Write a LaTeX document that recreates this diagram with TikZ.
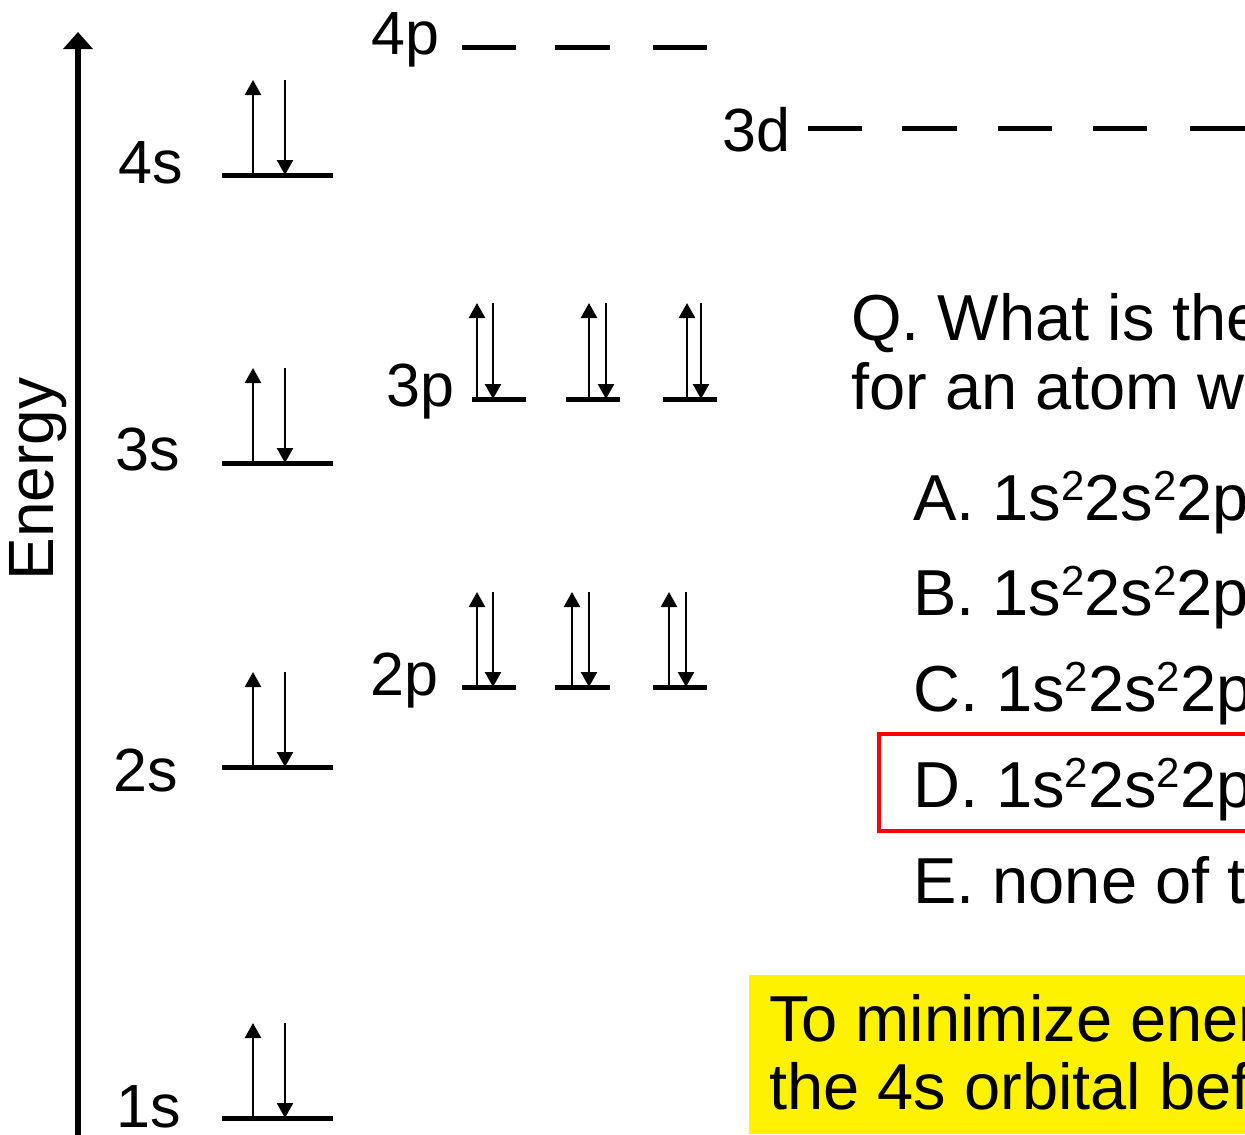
\documentclass[tikz,border=0pt]{standalone}
\usepackage{fontspec}
\setmainfont{Liberation Sans}
\usetikzlibrary{arrows.meta}
\newcommand\supr[1]{\raisebox{20pt}{\fontsize{42}{42}\selectfont #1}}
\begin{document}
\begin{tikzpicture}[x=1pt,y=-1pt,
  lvl/.style={line width=5pt},
  spin/.style={line width=2.5pt,-{Triangle[width=16pt,length=15pt]}},
  axisarrow/.style={line width=6pt,-{Triangle[width=29pt,length=17pt]}},
  lab/.style={inner sep=0pt,anchor=base west,font=\fontsize{61}{72}\selectfont},
  qtext/.style={inner sep=0pt,anchor=base west,font=\fontsize{65}{78}\selectfont},
]
\useasboundingbox (0,0) rectangle (1245,1135);
\clip (0,0) rectangle (1245,1135);

% energy axis
\coordinate (ax0) at (78,1145);
\coordinate (ax1) at (78,32);
\draw[axisarrow] (ax0) -- (ax1);
\node[inner sep=0pt,rotate=90,anchor=base,font=\fontsize{64}{72}\selectfont] (energy) at (53,479) {Energy};

% s levels
\foreach \n/\y in {4s/175,3s/463,2s/767,1s/1118}{
  \coordinate (L\n a) at (222,\y);
  \coordinate (L\n b) at (333,\y);
  \draw[lvl] (L\n a) -- (L\n b);
  \coordinate (U\n a) at (253,\y);
  \coordinate (U\n b) at (253,\y-95);
  \coordinate (D\n a) at (285,\y-95);
  \coordinate (D\n b) at (285,\y);
  \draw[spin] (U\n a) -- (U\n b);
  \draw[spin] (D\n a) -- (D\n b);
}
\node[lab] (l4s) at (118,183) {4s};
\node[lab] (l3s) at (115,470) {3s};
\node[lab] (l2s) at (113,791) {2s};
\node[lab] (l1s) at (116,1127) {1s};

% 3p
\foreach \i/\xa/\xb/\xu/\xd in {1/472/526/477/493, 2/566/620/589/606, 3/663/717/687/701}{
  \coordinate (P3\i a) at (\xa,399);
  \coordinate (P3\i b) at (\xb,399);
  \draw[lvl] (P3\i a) -- (P3\i b);
  \coordinate (P3u\i a) at (\xu,399);
  \coordinate (P3u\i b) at (\xu,303);
  \coordinate (P3d\i a) at (\xd,303);
  \coordinate (P3d\i b) at (\xd,399);
  \draw[spin] (P3u\i a) -- (P3u\i b);
  \draw[spin] (P3d\i a) -- (P3d\i b);
}
\node[lab] (l3p) at (386,406) {3p};

% 2p
\foreach \i/\xa/\xb/\xu/\xd in {1/462/516/477/493, 2/555/610/572/589, 3/653/707/669/686}{
  \coordinate (P2\i a) at (\xa,687);
  \coordinate (P2\i b) at (\xb,687);
  \draw[lvl] (P2\i a) -- (P2\i b);
  \coordinate (P2u\i a) at (\xu,687);
  \coordinate (P2u\i b) at (\xu,592);
  \coordinate (P2d\i a) at (\xd,592);
  \coordinate (P2d\i b) at (\xd,687);
  \draw[spin] (P2u\i a) -- (P2u\i b);
  \draw[spin] (P2d\i a) -- (P2d\i b);
}
\node[lab] (l2p) at (370,695) {2p};

% 4p (empty)
\foreach \i/\xa/\xb in {1/462/516, 2/555/610, 3/653/707}{
  \coordinate (P4\i a) at (\xa,47);
  \coordinate (P4\i b) at (\xb,47);
  \draw[lvl] (P4\i a) -- (P4\i b);
}
\node[lab] (l4p) at (371,54) {4p};

% 3d (empty)
\foreach \i/\xa/\xb in {1/808/862, 2/902/957, 3/998/1052, 4/1093/1147, 5/1190/1250}{
  \coordinate (D3\i a) at (\xa,128);
  \coordinate (D3\i b) at (\xb,128);
  \draw[lvl] (D3\i a) -- (D3\i b);
}
\node[lab] (l3d) at (722,151) {3d};

% question
\node[qtext] (q1) at (851,340) {Q. What is the electron configuration};
\node[qtext] (q2) at (851,409) {for an atom with 20 electrons?};
\node[qtext] (oa) at (913,520) {A. 1s\supr{2}2s\supr{2}2p\supr{6}};
\node[qtext] (ob) at (913,615) {B. 1s\supr{2}2s\supr{2}2p\supr{6}};
\node[qtext] (oc) at (913,711) {C. 1s\supr{2}2s\supr{2}2p\supr{6}};
\node[qtext] (od) at (913,807) {D. 1s\supr{2}2s\supr{2}2p\supr{6}};
\node[qtext] (oe) at (913,903) {E. none of the above};
\draw[red,line width=4pt] (1260,734) -- (879,734) -- (879,831) -- (1260,831);

% yellow box
\fill[yellow] (749,975) rectangle (1260,1134);
\node[qtext] (n1) at (769,1041) {To minimize energy,};
\node[qtext] (n2) at (769,1109) {the 4s orbital before};
\end{tikzpicture}
\end{document}
